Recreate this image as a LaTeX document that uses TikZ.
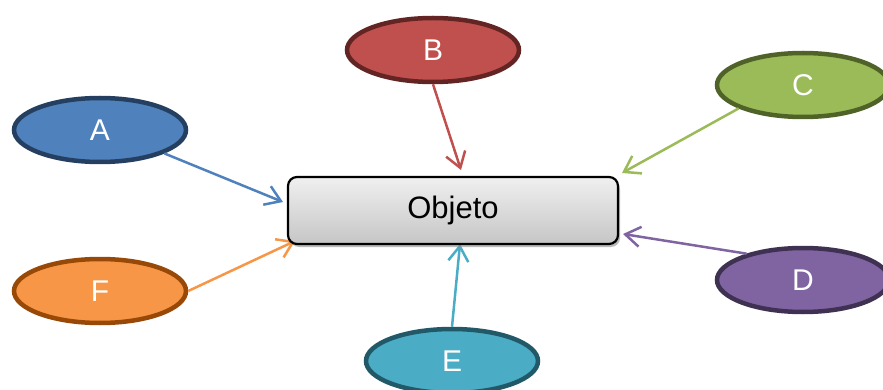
\documentclass[tikz,border=0pt]{standalone}
\usepackage{fontspec}
\setmainfont{Liberation Sans}
\usetikzlibrary{shapes.geometric,arrows.meta,shadows}
\definecolor{aF}{HTML}{4F81BD}\definecolor{aD}{HTML}{243F60}
\definecolor{bF}{HTML}{C0504D}\definecolor{bD}{HTML}{632523}
\definecolor{cF}{HTML}{9BBB59}\definecolor{cD}{HTML}{4F6228}
\definecolor{dF}{HTML}{8064A2}\definecolor{dD}{HTML}{3F3151}
\definecolor{eF}{HTML}{4BACC6}\definecolor{eD}{HTML}{215968}
\definecolor{fF}{HTML}{F79646}\definecolor{fD}{HTML}{984807}
\tikzset{
  oval/.style={ellipse, draw=#1D, fill=#1F, line width=4.5pt, inner sep=0pt,
    minimum width=172pt, minimum height=64pt, text=white, font=\fontsize{30}{30}\selectfont},
  conn/.style={draw=#1F, line width=2.5pt, -{Straight Barb[length=15pt,width=20pt]}},
  objbox/.style={draw=black, line width=2.2pt, rounded corners=9pt,
    top color=gray!12, bottom color=gray!45, minimum width=330pt, minimum height=67pt,
    font=\fontsize{31}{31}\selectfont,
    drop shadow={shadow xshift=2pt, shadow yshift=-3pt, fill=black!45, opacity=0.6}}
}
\begin{document}
\begin{tikzpicture}[x=1pt,y=-1pt]
\useasboundingbox (0,0) rectangle (883,390);
\clip (0,0) rectangle (883,390);
\node[oval=a] (A) at (100,130) {A};
\node[oval=b] (B) at (433,50) {B};
\node[oval=c] (C) at (803,85) {C};
\node[oval=d] (D) at (803,280) {D};
\node[oval=e] (E) at (452,361) {E};
\node[oval=f] (F) at (100,291) {F};
\coordinate (tA) at (283,202);
\coordinate (tB) at (461,170);
\coordinate (tC) at (622,173);
\coordinate (tD) at (623,234);
\coordinate (tE) at (460,244);
\coordinate (tF) at (295,241);
\draw[conn=a] (A.-20) -- (tA);
\draw[conn=b] (B.south) -- (tB);
\draw[conn=c] (C.200) -- (tC);
\draw[conn=d] (D.155) -- (tD);
\draw[conn=e] (E.north) -- (tE);
\draw[conn=f] (F.east) -- (tF);
\node[objbox] (O) at (453,210.5) {Objeto};
\end{tikzpicture}
\end{document}
